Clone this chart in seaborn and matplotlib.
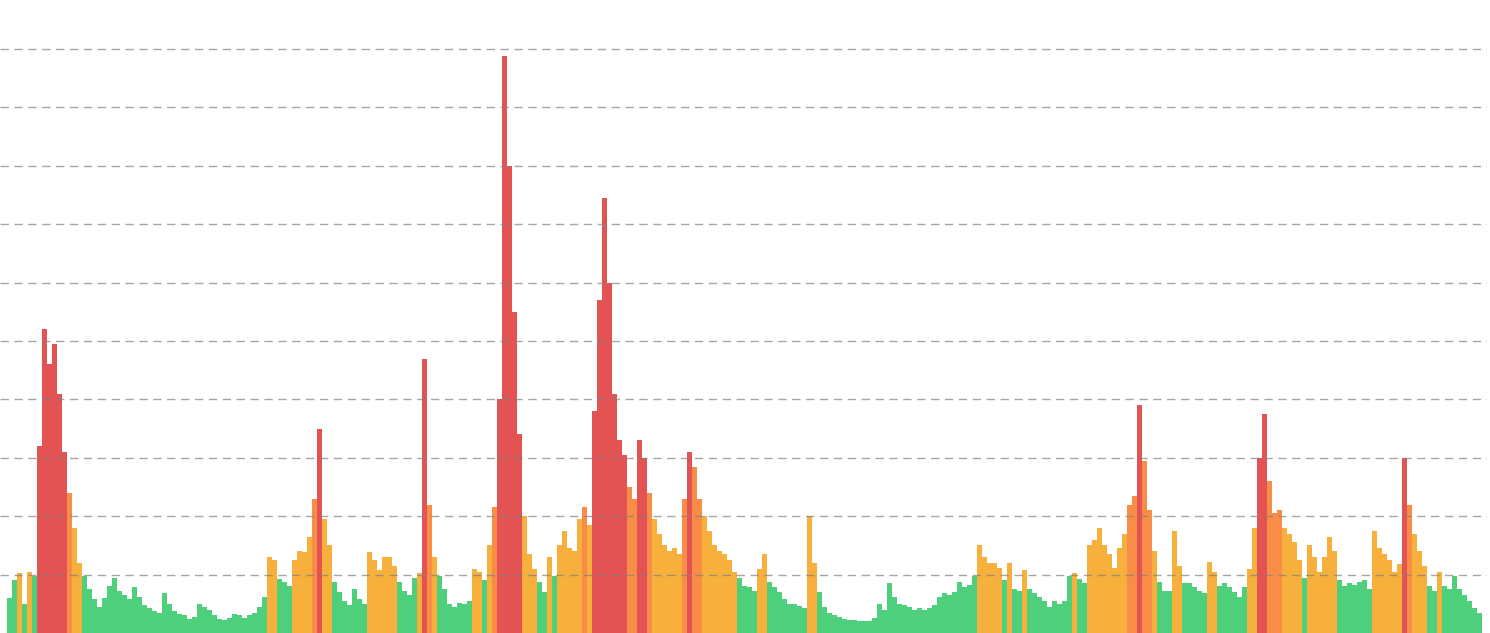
import matplotlib
matplotlib.use("Agg")
import matplotlib.pyplot as plt
import seaborn as sns
import pandas as pd

# readings, one every ~5 px across the chart (units = grid steps)
values = [
    0.6, 0.9, 1.02, 0.5, 1.05, 0.98, 3.2, 5.2, 4.6, 4.95,
    4.1, 3.1, 2.4, 1.8, 1.2, 0.98, 0.75, 0.58, 0.45, 0.6,
    0.8, 0.95, 0.72, 0.65, 0.58, 0.78, 0.62, 0.48, 0.42, 0.38,
    0.35, 0.68, 0.5, 0.38, 0.33, 0.3, 0.24, 0.28, 0.5, 0.44,
    0.4, 0.3, 0.24, 0.22, 0.25, 0.32, 0.3, 0.26, 0.3,
    0.35, 0.45, 0.62, 1.3, 1.25, 0.92, 0.88, 0.8, 1.25, 1.4,
    1.38, 1.65, 2.3, 3.5, 1.95, 1.5, 0.88, 0.7, 0.55, 0.48,
    0.75, 0.58, 0.5, 1.38, 1.25, 1.08, 1.3, 1.3, 1.15, 0.88,
    0.72, 0.65, 0.95, 1.03, 4.7, 2.2, 1.3, 0.97, 0.75, 0.5,
    0.45, 0.52, 0.5, 0.55, 1.1, 1.05, 0.9, 1.5, 2.15,
    4.0, 9.88, 8.0, 5.5, 3.4, 2.0, 1.35, 1.1, 0.88, 0.7,
    1.3, 0.98, 1.5, 1.75, 1.45, 1.4, 1.95, 2.15, 1.85, 3.8,
    5.7, 7.45, 6.0, 4.1, 3.3, 3.05, 2.5, 2.3, 3.3, 3.0,
    2.4, 1.95, 1.7, 1.5, 1.4, 1.45, 1.35, 2.3, 3.1, 2.85,
    2.3, 2.0, 1.75, 1.5, 1.4, 1.35, 1.25, 1.05, 0.95, 0.8,
    0.78, 0.72, 1.1, 1.35, 0.88, 0.78, 0.7, 0.58, 0.5, 0.5,
    0.46, 0.43, 2.0, 1.2, 0.7, 0.45, 0.34, 0.3, 0.28, 0.24,
    0.22, 0.22, 0.2, 0.21, 0.2, 0.25, 0.5, 0.4, 0.85, 0.62,
    0.5, 0.48, 0.45, 0.4, 0.42, 0.4, 0.42, 0.48, 0.62, 0.68,
    0.65, 0.7, 0.88, 0.78, 0.82, 0.97, 1.5, 1.3, 1.2, 1.2,
    1.12, 0.9, 1.2, 0.75, 0.72, 1.08, 0.75, 0.68, 0.62, 0.55,
    0.45, 0.55, 0.5, 0.55, 0.97, 1.02, 0.92, 0.86, 1.5, 1.6,
    1.8, 1.5, 1.35, 1.12, 1.45, 1.7, 2.2, 2.35, 3.9, 2.95,
    2.1, 1.4, 0.88, 0.72, 0.72, 1.75, 1.15, 0.86, 0.85, 0.78,
    0.72, 0.68, 1.22, 1.05, 0.8, 0.85, 0.78, 0.7, 0.62, 0.78,
    1.1, 1.8, 3.0, 3.75, 2.6, 2.05, 2.1, 1.8, 1.7, 1.55,
    1.25, 0.95, 1.5, 1.3, 1.05, 1.3, 1.65, 1.4, 0.9, 0.8,
    0.85, 0.82, 0.88, 0.9, 0.75, 1.75, 1.45, 1.35, 1.25, 1.05,
    1.18, 3.0, 2.2, 1.7, 1.4, 1.15, 0.8, 0.72, 1.05, 0.8,
    0.75, 0.97, 0.75, 0.65, 0.55, 0.42, 0.35,
]

level_names = ["low", "mid", "high", "extreme"]
level_colors = ["#4ecf7b", "#f7b03c", "#f98d48", "#e35353"]
thresholds = [1.0, 2.0, 3.0]


def level_of(v):
    if v >= thresholds[2]:
        return "extreme"
    if v > thresholds[1]:
        return "high"
    if v > thresholds[0]:
        return "mid"
    return "low"


df = pd.DataFrame({"idx": range(len(values)), "value": values})
df["level"] = [level_of(v) for v in values]

fig = plt.figure(figsize=(14.9, 6.33), dpi=100)
ax = fig.add_axes([0, 0, 1487 / 1490, 1])

sns.barplot(data=df, x="idx", y="value", hue="level", hue_order=level_names,
            palette=level_colors, dodge=False, native_scale=True, width=1.0,
            saturation=1, linewidth=0, legend=False, ax=ax)

ax.set_xlim(-1.9, len(values) + 0.5)
ax.set_ylim(0, 10.84)
ax.set_yticks(range(1, 11))
# grid sits on top of the fill, faint through the bars
ax.yaxis.grid(True, color="#808080", alpha=0.7, linestyle=(0, (6, 4)), linewidth=1)
ax.set_axisbelow(False)
ax.tick_params(left=False, bottom=False, labelleft=False, labelbottom=False)
ax.set_xlabel("")
ax.set_ylabel("")
for s in ax.spines.values():
    s.set_visible(False)

fig.savefig("out.png", dpi=100)
